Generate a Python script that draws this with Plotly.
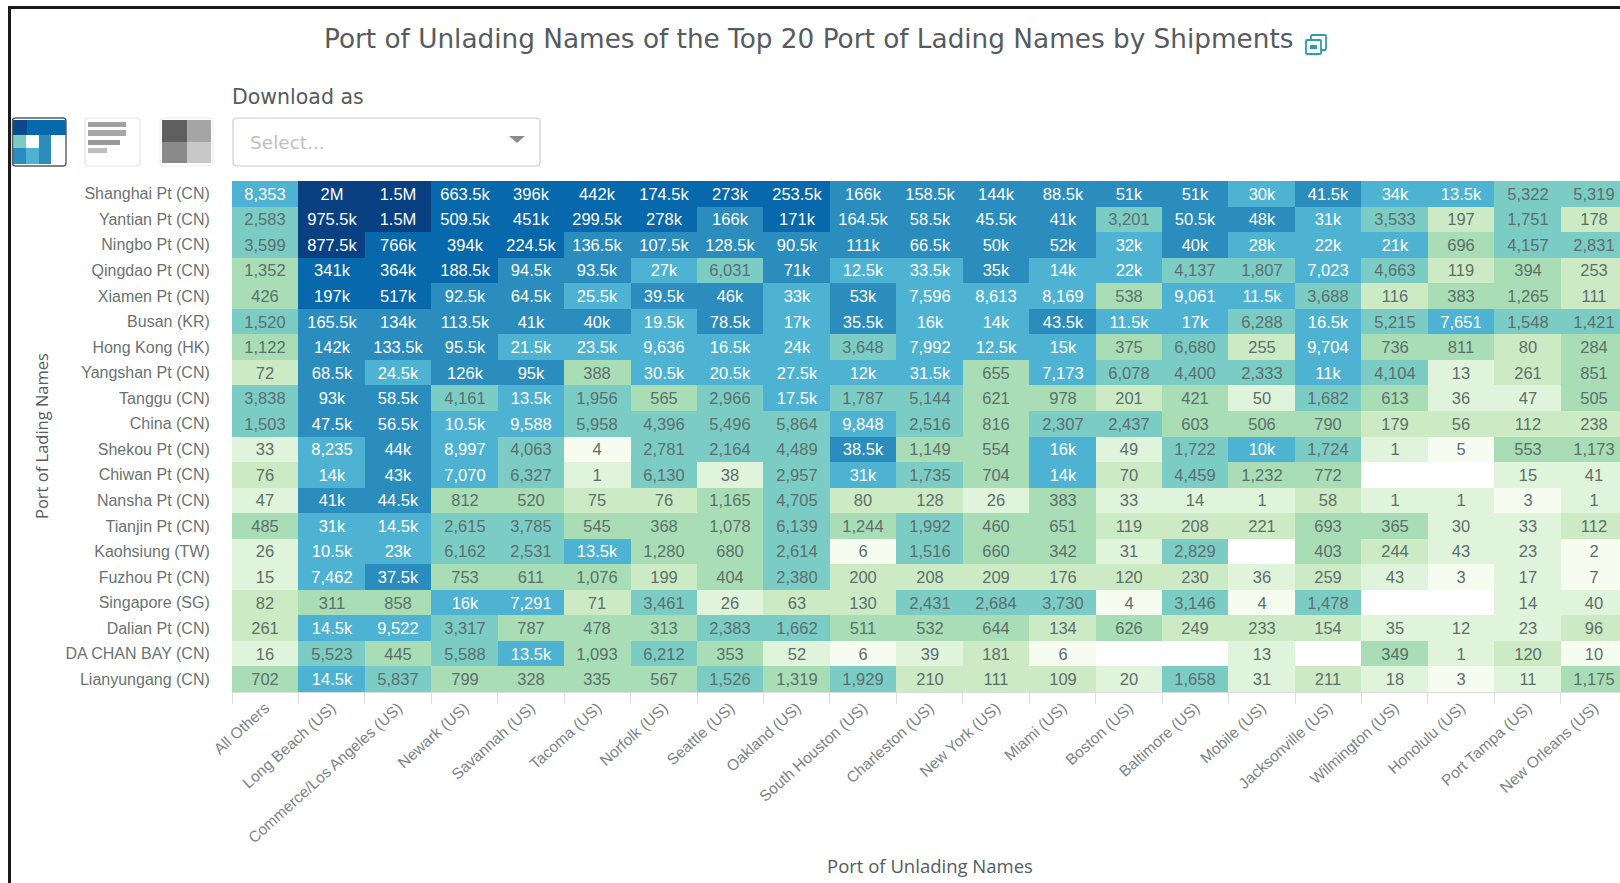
import numpy as np
import plotly.graph_objects as go

W, H = 1620, 883
L, R, T, B = 232, 1620, 181, 692

columns = ["All Others", "Long Beach (US)", "Commerce/Los Angeles (US)", "Newark (US)", "Savannah (US)",
           "Tacoma (US)", "Norfolk (US)", "Seattle (US)", "Oakland (US)", "South Houston (US)",
           "Charleston (US)", "New York (US)", "Miami (US)", "Boston (US)", "Baltimore (US)",
           "Mobile (US)", "Jacksonville (US)", "Wilmington (US)", "Honolulu (US)", "Port Tampa (US)",
           "New Orleans (US)"]
rows = ["Shanghai Pt (CN)", "Yantian Pt (CN)", "Ningbo Pt (CN)", "Qingdao Pt (CN)", "Xiamen Pt (CN)",
        "Busan (KR)", "Hong Kong (HK)", "Yangshan Pt (CN)", "Tanggu (CN)", "China (CN)",
        "Shekou Pt (CN)", "Chiwan Pt (CN)", "Nansha Pt (CN)", "Tianjin Pt (CN)", "Kaohsiung (TW)",
        "Fuzhou Pt (CN)", "Singapore (SG)", "Dalian Pt (CN)", "DA CHAN BAY (CN)", "Lianyungang (CN)"]

shanghai = [8353, 2000000, 1500000, 663500, 396000, 442000, 174500, 273000, 253500, 166000, 158500, 144000, 88500, 51000, 51000, 30000, 41500, 34000, 13500, 5322, 5319]
yantian = [2583, 975500, 1500000, 509500, 451000, 299500, 278000, 166000, 171000, 164500, 58500, 45500, 41000, 3201, 50500, 48000, 31000, 3533, 197, 1751, 178]
ningbo = [3599, 877500, 766000, 394000, 224500, 136500, 107500, 128500, 90500, 111000, 66500, 50000, 52000, 32000, 40000, 28000, 22000, 21000, 696, 4157, 2831]
qingdao = [1352, 341000, 364000, 188500, 94500, 93500, 27000, 6031, 71000, 12500, 33500, 35000, 14000, 22000, 4137, 1807, 7023, 4663, 119, 394, 253]
xiamen = [426, 197000, 517000, 92500, 64500, 25500, 39500, 46000, 33000, 53000, 7596, 8613, 8169, 538, 9061, 11500, 3688, 116, 383, 1265, 111]
busan = [1520, 165500, 134000, 113500, 41000, 40000, 19500, 78500, 17000, 35500, 16000, 14000, 43500, 11500, 17000, 6288, 16500, 5215, 7651, 1548, 1421]
hong_kong = [1122, 142000, 133500, 95500, 21500, 23500, 9636, 16500, 24000, 3648, 7992, 12500, 15000, 375, 6680, 255, 9704, 736, 811, 80, 284]
yangshan = [72, 68500, 24500, 126000, 95000, 388, 30500, 20500, 27500, 12000, 31500, 655, 7173, 6078, 4400, 2333, 11000, 4104, 13, 261, 851]
tanggu = [3838, 93000, 58500, 4161, 13500, 1956, 565, 2966, 17500, 1787, 5144, 621, 978, 201, 421, 50, 1682, 613, 36, 47, 505]
china = [1503, 47500, 56500, 10500, 9588, 5958, 4396, 5496, 5864, 9848, 2516, 816, 2307, 2437, 603, 506, 790, 179, 56, 112, 238]
shekou = [33, 8235, 44000, 8997, 4063, 4, 2781, 2164, 4489, 38500, 1149, 554, 16000, 49, 1722, 10000, 1724, 1, 5, 553, 1173]
chiwan = [76, 14000, 43000, 7070, 6327, 1, 6130, 38, 2957, 31000, 1735, 704, 14000, 70, 4459, 1232, 772, None, None, 15, 41]
nansha = [47, 41000, 44500, 812, 520, 75, 76, 1165, 4705, 80, 128, 26, 383, 33, 14, 1, 58, 1, 1, 3, 1]
tianjin = [485, 31000, 14500, 2615, 3785, 545, 368, 1078, 6139, 1244, 1992, 460, 651, 119, 208, 221, 693, 365, 30, 33, 112]
kaohsiung = [26, 10500, 23000, 6162, 2531, 13500, 1280, 680, 2614, 6, 1516, 660, 342, 31, 2829, None, 403, 244, 43, 23, 2]
fuzhou = [15, 7462, 37500, 753, 611, 1076, 199, 404, 2380, 200, 208, 209, 176, 120, 230, 36, 259, 43, 3, 17, 7]
singapore = [82, 311, 858, 16000, 7291, 71, 3461, 26, 63, 130, 2431, 2684, 3730, 4, 3146, 4, 1478, None, None, 14, 40]
dalian = [261, 14500, 9522, 3317, 787, 478, 313, 2383, 1662, 511, 532, 644, 134, 626, 249, 233, 154, 35, 12, 23, 96]
da_chan_bay = [16, 5523, 445, 5588, 13500, 1093, 6212, 353, 52, 6, 39, 181, 6, None, None, 13, None, 349, 1, 120, 10]
lianyungang = [702, 14500, 5837, 799, 328, 335, 567, 1526, 1319, 1929, 210, 111, 109, 20, 1658, 31, 211, 18, 3, 11, 1175]

values = [shanghai, yantian, ningbo, qingdao, xiamen, busan, hong_kong, yangshan, tanggu, china,
          shekou, chiwan, nansha, tianjin, kaohsiung, fuzhou, singapore, dalian, da_chan_bay, lianyungang]

palette = ["#f7fcf0", "#e0f3db", "#ccebc5", "#a8ddb5", "#7bccc4", "#4eb3d3", "#2b8cbe", "#0868ac", "#084081"]
thresholds = [2.2, 11, 56, 280, 1400, 7000, 34500, 168000, 860000]


def label(v):
    if v is None:
        return ""
    if v >= 1e6:
        return f"{v / 1e6:g}M"
    if v >= 1e4:
        return f"{v / 1e3:g}k"
    return f"{v:,}"


def level(v):
    if v is None:
        return None
    if v == 1:  # single shipments are shaded one step darker in the source
        return 1
    return max(0, int(np.digitize(v, thresholds)) - 1) if v >= 2.2 else 0


levels = [[level(v) for v in r] for r in values]
texts = [[label(v) for v in r] for r in values]
scale = []
for i, c in enumerate(palette):
    scale += [[i / 9, c], [(i + 1) / 9, c]]

CELL_FONT = "Liberation Sans"


def layer(light_text):
    z = [[(lv if lv is not None and (lv >= 5) == light_text else None) for lv in r] for r in levels]
    t = [[(s if z[i][j] is not None else "") for j, s in enumerate(r)] for i, r in enumerate(texts)]
    return go.Heatmap(z=z, x=columns, y=rows, text=t, texttemplate="%{text}", zmin=-0.5, zmax=8.5,
                      colorscale=scale, showscale=False, hoverongaps=False,
                      textfont=dict(family=CELL_FONT, size=16.5, color="#ffffff" if light_text else "#5d6f6c"))


fig = go.Figure([layer(False), layer(True)])


def px(x):
    return (x - L) / (R - L)


def py(y):
    return (B - y) / (B - T)


def rect(x0, y0, x1, y1, fill, line=None, lw=1):
    return dict(type="rect", xref="paper", yref="paper", x0=px(x0), x1=px(x1), y0=py(y0), y1=py(y1),
                fillcolor=fill, line=dict(color=line or "rgba(0,0,0,0)", width=lw if line else 0), layer="above")


def rrect(x0, y0, x1, y1, r, fill, line, lw=1.2):
    P = lambda x, y: f"{px(x):.5f},{py(y):.5f}"
    d = (f"M{P(x0 + r, y0)} L{P(x1 - r, y0)} Q{P(x1, y0)} {P(x1, y0 + r)} L{P(x1, y1 - r)} "
         f"Q{P(x1, y1)} {P(x1 - r, y1)} L{P(x0 + r, y1)} Q{P(x0, y1)} {P(x0, y1 - r)} "
         f"L{P(x0, y0 + r)} Q{P(x0, y0)} {P(x0 + r, y0)} Z")
    return dict(type="path", xref="paper", yref="paper", path=d, fillcolor=fill,
                line=dict(color=line, width=lw), layer="above")


shapes = [
    # page frame
    rect(8, 6, W, 9, "#1a1a1a"),
    rect(8, 6, 11, H, "#1a1a1a"),
    # heatmap toggle
    rect(13, 120, 27, 135, "#0a4a8c"), rect(27, 120, 66, 135, "#0868ac"),
    rect(13, 135, 26, 148, "#7bccc4"), rect(39, 135, 51, 148, "#2b8cbe"),
    rect(13, 148, 26, 164, "#2b8cbe"), rect(26, 148, 39, 164, "#4eb3d3"), rect(39, 148, 51, 164, "#2b8cbe"),
    rrect(12.5, 118, 66, 166, 3, "rgba(0,0,0,0)", "#4f5d63", 1.4),
    # bar toggle
    rrect(85, 118, 140, 166, 3, "#ffffff", "#e6e6e6"),
    rect(88, 122, 126, 127, "#a0a0a0"), rect(88, 130, 126, 136, "#a8a8a8"),
    rect(88, 140, 120, 145, "#9a9a9a"), rect(88, 148, 107, 153, "#bdbdbd"),
    # treemap toggle
    rrect(160, 118, 213, 166, 3, "#ffffff", "#eeeeee"),
    rect(162, 120, 187.5, 142, "#5f5f5f"), rect(187.5, 120, 211, 142, "#a5a5a5"),
    rect(162, 142, 187.5, 163, "#8a8a8a"), rect(187.5, 142, 211, 163, "#c8c8c8"),
    # select box
    rrect(233, 118, 540, 166, 4, "#ffffff", "#cccccc"),
    dict(type="path", xref="paper", yref="paper", layer="above", fillcolor="#8c8c8c", line=dict(width=0),
         path=f"M{px(509):.5f},{py(136):.5f} L{px(525):.5f},{py(136):.5f} L{px(517):.5f},{py(143):.5f} Z"),
    # expand icon
    rrect(1311, 35, 1326, 50, 1, "#ffffff", "#2f9db0", 1.8),
    rrect(1306, 40, 1321, 54, 1, "#ffffff", "#2f9db0", 1.8),
    rect(1310, 45, 1317, 49, "#2f9db0"),
]

FONT = "DejaVu Sans"
TXT = "#555b5e"


def note(text, x, y, size, color=TXT, anchor="left", family=FONT, angle=0):
    return dict(text=text, xref="paper", yref="paper", x=px(x), y=py(y), showarrow=False, xanchor=anchor,
                yanchor="middle", textangle=angle, font=dict(family=family, size=size, color=color))


annotations = [
    note("Port of Unlading Names of the Top 20 Port of Lading Names by Shipments", 808, 39, 26.3, anchor="center"),
    note("Download as", 230, 97, 20.5),
    note("Select...", 248, 143, 18.5, color="#c0c0c0"),
    note("Port of Unlading Names", 930, 865, 18.5, anchor="center", family="Open Sans"),
    note("Port of Lading Names", 41, 436, 16.5, anchor="center", angle=-90, family="Open Sans"),
]

fig.update_layout(
    width=W, height=H, autosize=False, paper_bgcolor="#ffffff", plot_bgcolor="#ffffff",
    margin=dict(l=L, r=W - R, t=T, b=H - B), shapes=shapes, annotations=annotations,
    font=dict(family="Liberation Sans", color="#5d6664"),
    xaxis=dict(type="category", range=[-0.5, 20.39], side="bottom", tickson="boundaries", ticks="outside",
               ticklen=11, tickcolor="#dddddd", tickwidth=1, showline=True, linecolor="#dddddd",
               showgrid=False, zeroline=False, tickangle=-42, tickfont=dict(size=15.5, color="#7c8482"),
               automargin=False),
    yaxis=dict(type="category", autorange="reversed", ticks="outside", ticklen=18, tickcolor="rgba(0,0,0,0)",
               showgrid=False, zeroline=False, showline=False, tickfont=dict(size=16, color="#6a7371"),
               automargin=False),
)

fig.write_html("out.html", config=dict(displayModeBar=False),
               post_script="document.body.style.margin='0';document.body.style.overflow='hidden';")
